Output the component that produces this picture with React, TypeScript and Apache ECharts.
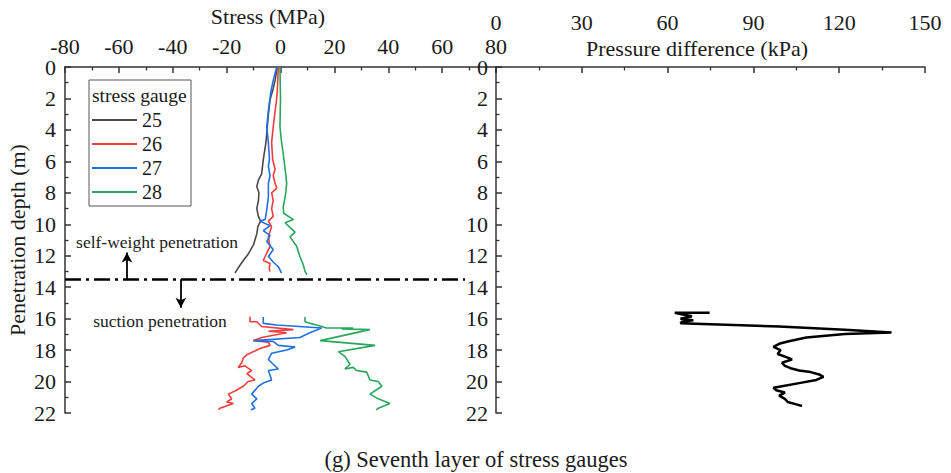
import React, { useEffect, useRef } from "react";
import * as echarts from "echarts";

const FONT = "'Liberation Serif', 'Times New Roman', serif";

const gaugeNames = ["25", "26", "27", "28"];
const gaugeColors = ["#4a4a4a", "#f03c3c", "#1f6fe0", "#2aa65c"];

// [stress (MPa), depth (m)]
const g25Upper = [
  [-1.2, 0], [-2.0, 0.85], [-2.9, 1.5], [-3.9, 2.1], [-4.5, 3.0], [-4.9, 3.8], [-5.4, 4.8],
  [-6.4, 5.9], [-7.0, 6.8], [-8.2, 7.2], [-8.8, 7.6], [-8.0, 8.0], [-8.2, 8.5], [-8.8, 9.0],
  [-8.2, 9.5], [-7.4, 9.8], [-8.4, 10.15], [-8.8, 10.6], [-10.0, 11.3], [-12.0, 11.9],
  [-14.2, 12.4], [-15.8, 12.8], [-16.9, 13.1],
];
const g26Upper = [
  [-0.8, 0], [-1.2, 1.6], [-1.6, 2.3], [-2.0, 2.8], [-2.7, 3.8], [-3.3, 4.8], [-2.9, 5.9],
  [-2.0, 6.5], [-2.7, 6.9], [-2.0, 7.4], [-1.4, 7.7], [-3.3, 8.0], [-2.7, 8.5], [-3.3, 9.0],
  [-2.7, 9.5], [-4.5, 9.8], [-3.3, 10.15], [-4.5, 10.8], [-3.9, 11.4], [-5.7, 12.05],
  [-6.4, 12.3], [-3.9, 12.5], [-4.2, 12.8], [-3.9, 13.0],
];
const g27Upper = [
  [-1.4, 0], [-2.7, 0.85], [-3.6, 1.6], [-4.5, 2.8], [-5.1, 3.8], [-4.5, 4.8], [-4.1, 5.9],
  [-4.5, 6.3], [-3.9, 6.9], [-4.5, 7.4], [-4.5, 8.25], [-5.1, 9.1], [-5.7, 9.7], [-7.6, 9.8],
  [-3.9, 10.1], [-6.4, 10.4], [-3.9, 10.7], [-5.1, 11.1], [-2.7, 11.6], [-4.5, 12.05],
  [-2.7, 12.4], [-0.8, 12.7], [0.4, 13.1],
];
const g28Upper = [
  [-0.2, 0], [0, 2], [-0.2, 3.8], [0.4, 4.8], [1.0, 5.5], [1.5, 6.2], [2.0, 6.9], [2.3, 7.4],
  [2.0, 7.9], [1.7, 8.3], [1.0, 8.9], [1.2, 9.3], [4.8, 9.7], [1.7, 9.9], [3.5, 10.2],
  [5.4, 10.5], [3.5, 10.8], [6.0, 11.4], [7.2, 12.05], [8.5, 12.6], [9.1, 13.0], [9.8, 13.2],
];

const g25Lower: number[][] = [];
const g26Lower = [
  [-11.3, 15.88], [-11.3, 16.2], [-8.8, 16.2], [-7.0, 16.5], [4.8, 16.7], [-4.5, 16.8],
  [2.3, 16.9], [-7.0, 17.2], [-10.1, 17.4], [-4.5, 17.5], [-3.9, 17.7], [-7.6, 17.9],
  [-12.5, 18.3], [-13.8, 18.5], [-14.4, 18.8], [-15.7, 19.1], [-13.2, 19.0], [-10.7, 19.3],
  [-12.5, 19.5], [-9.5, 19.9], [-12.0, 20.0], [-13.8, 20.3], [-16.9, 20.6], [-19.4, 20.8],
  [-18.1, 21.1], [-20.0, 21.3], [-17.5, 21.4], [-22.5, 21.7], [-23.0, 21.8],
];
const g27Lower = [
  [-6.4, 15.9], [-6.4, 16.3], [-1.4, 16.4], [15.3, 16.6], [10.9, 16.9], [7.2, 17.2],
  [-10.1, 17.4], [-2.7, 17.45], [-0.8, 17.7], [5.4, 17.8], [2.3, 18.0], [-3.3, 18.2],
  [-4.5, 18.6], [-2.7, 18.9], [-0.8, 19.2], [-4.5, 19.3], [-3.3, 19.9], [-6.4, 20.1],
  [-8.2, 20.3], [-10.7, 20.8], [-8.8, 21.1], [-10.7, 21.4], [-9.5, 21.7], [-11.0, 21.8],
];
const g28Lower = [
  [9.1, 15.9], [9.1, 16.2], [10.9, 16.3], [13.4, 16.4], [17.1, 16.6], [27.0, 16.6],
  [22.7, 16.65], [33.2, 16.7], [14.7, 17.4], [35.1, 17.7], [21.5, 18.1], [23.9, 18.4],
  [25.8, 18.9], [23.9, 19.2], [27.0, 19.1], [28.3, 19.3], [32.0, 19.4], [33.2, 19.9],
  [36.3, 20.0], [37.6, 20.3], [33.2, 20.8], [36.3, 21.1], [40.6, 21.4], [36.3, 21.7],
  [35.5, 21.8],
];

// [pressure difference (kPa), depth (m)]
const pressureData = [
  [74.7, 15.62], [62.5, 15.62], [64.5, 15.7], [68.5, 15.85], [64.5, 16.0], [69, 16.1],
  [65, 16.2], [64.5, 16.3], [75, 16.35], [99, 16.5], [122, 16.7], [138.3, 16.88],
  [122, 16.98], [108.5, 17.2], [102, 17.45], [99, 17.6], [97, 17.8], [99.5, 18.0],
  [98.5, 18.25], [101.5, 18.45], [103.5, 18.6], [100, 18.8], [101, 19.0], [103, 19.15],
  [106, 19.3], [110, 19.4], [113, 19.55], [114.5, 19.7], [112, 19.9], [106, 20.1],
  [100, 20.3], [97, 20.4], [98, 20.55], [101, 20.7], [99, 20.9], [101, 21.1], [102, 21.3],
  [105, 21.45], [107, 21.55],
];

const boundaryDepth = 13.5;
const boundaryEndStress = 68.5;
const upArrowStress = -57;
const upArrowTop = 11.8;
const downArrowStress = -37;
const downArrowBottom = 15.3;

const upperSets = [g25Upper, g26Upper, g27Upper, g28Upper];
const lowerSets = [g25Lower, g26Lower, g27Lower, g28Lower];

export default function App() {
  const ref = useRef<HTMLDivElement>(null);

  useEffect(() => {
    if (!ref.current) return;
    const chart = echarts.init(ref.current, undefined, { renderer: "svg" });

    const axisLine = { show: true, onZero: false, lineStyle: { color: "#333", width: 1.5 } };
    const axisTick = { show: true, inside: true, length: 6, lineStyle: { color: "#333", width: 1.5 } };
    const minorTick = { show: true, splitNumber: 2, length: 3.5, lineStyle: { color: "#333", width: 1.3 } };
    const labelStyle = { fontSize: 22, fontFamily: FONT, color: "#1a1a1a" };

    const series: any[] = [];
    gaugeNames.forEach((name, i) => {
      const up: any = {
        name,
        type: "line",
        xAxisIndex: 0,
        yAxisIndex: 0,
        data: upperSets[i],
        showSymbol: false,
        symbol: "none",
        lineStyle: { color: gaugeColors[i], width: 1.6 },
        itemStyle: { color: gaugeColors[i] },
        z: 3,
      };
      if (i === 0) {
        up.markLine = {
          silent: true,
          symbol: ["none", "none"],
          label: { show: false },
          lineStyle: { color: "#000", width: 2.5, type: [16, 5, 3, 5] },
          data: [[{ coord: [-80, boundaryDepth] }, { coord: [boundaryEndStress, boundaryDepth] }]],
        };
      }
      if (i === 1) {
        up.markLine = {
          silent: true,
          symbol: ["none", "arrow"],
          symbolSize: [8, 10],
          label: { show: false },
          lineStyle: { color: "#000", width: 1.8, type: "solid" },
          data: [
            [{ coord: [upArrowStress, boundaryDepth] }, { coord: [upArrowStress, upArrowTop] }],
            [{ coord: [downArrowStress, boundaryDepth] }, { coord: [downArrowStress, downArrowBottom] }],
          ],
        };
      }
      series.push(up);
      if (lowerSets[i].length) {
        series.push({
          name,
          type: "line",
          xAxisIndex: 0,
          yAxisIndex: 0,
          data: lowerSets[i],
          showSymbol: false,
          symbol: "none",
          lineStyle: { color: gaugeColors[i], width: 1.6 },
          itemStyle: { color: gaugeColors[i] },
          z: 3,
        });
      }
    });
    series.push({
      name: "pressure",
      type: "line",
      xAxisIndex: 1,
      yAxisIndex: 1,
      data: pressureData,
      showSymbol: false,
      symbol: "none",
      lineStyle: { color: "#000", width: 2.5 },
      itemStyle: { color: "#000" },
    });

    const option: any = {
      animation: false,
      backgroundColor: "#fff",
      grid: [
        { left: 65, top: 67, width: 431, height: 346, containLabel: false },
        { left: 496, top: 67, width: 429, height: 346, containLabel: false },
      ],
      xAxis: [
        {
          type: "value",
          gridIndex: 0,
          position: "top",
          min: -80,
          max: 80,
          interval: 20,
          axisLine,
          axisTick,
          minorTick,
          splitLine: { show: false },
          minorSplitLine: { show: false },
          axisLabel: { ...labelStyle, margin: 10 },
        },
        {
          type: "value",
          gridIndex: 1,
          position: "top",
          min: 0,
          max: 150,
          interval: 30,
          axisLine,
          axisTick,
          minorTick,
          splitLine: { show: false },
          minorSplitLine: { show: false },
          axisLabel: { ...labelStyle, margin: 34 },
        },
      ],
      yAxis: [
        {
          type: "value",
          gridIndex: 0,
          position: "left",
          inverse: true,
          min: 0,
          max: 22,
          interval: 2,
          axisLine,
          axisTick,
          minorTick,
          splitLine: { show: false },
          minorSplitLine: { show: false },
          axisLabel: { ...labelStyle, margin: 9 },
          name: "Penetration depth (m)",
          nameLocation: "middle",
          nameGap: 37,
          nameTextStyle: { fontSize: 22, fontFamily: FONT, color: "#1a1a1a" },
        },
        {
          type: "value",
          gridIndex: 1,
          position: "left",
          inverse: true,
          min: 0,
          max: 22,
          interval: 2,
          axisLine,
          axisTick,
          minorTick,
          splitLine: { show: false },
          minorSplitLine: { show: false },
          axisLabel: { ...labelStyle, margin: 8 },
        },
      ],
      legend: {
        data: gaugeNames,
        left: 89,
        top: 80,
        orient: "vertical",
        icon: "rect",
        itemWidth: 45,
        itemHeight: 2,
        itemGap: 4,
        padding: [30, 29, 4, 3],
        borderColor: "#555",
        borderWidth: 1,
        selectedMode: false,
        textStyle: { fontSize: 20, fontFamily: FONT, color: "#1a1a1a" },
      },
      graphic: [
        {
          type: "text",
          x: 268,
          y: 16,
          style: { text: "Stress (MPa)", fontSize: 22, fontFamily: FONT, fill: "#1a1a1a", align: "center", verticalAlign: "middle" },
        },
        {
          type: "text",
          x: 697,
          y: 48,
          style: { text: "Pressure difference (kPa)", fontSize: 22, fontFamily: FONT, fill: "#1a1a1a", align: "center", verticalAlign: "middle" },
        },
        {
          type: "text",
          x: 92,
          y: 95,
          style: { text: "stress gauge", fontSize: 19.5, fontFamily: FONT, fill: "#1a1a1a", align: "left", verticalAlign: "middle" },
        },
        {
          type: "text",
          x: 157,
          y: 242,
          style: { text: "self-weight penetration", fontSize: 17.5, fontFamily: FONT, fill: "#1a1a1a", align: "center", verticalAlign: "middle" },
        },
        {
          type: "text",
          x: 160,
          y: 321,
          style: { text: "suction penetration", fontSize: 17.5, fontFamily: FONT, fill: "#1a1a1a", align: "center", verticalAlign: "middle" },
        },
        {
          type: "text",
          x: 476,
          y: 459,
          style: { text: "(g) Seventh layer of stress gauges", fontSize: 22.5, fontFamily: FONT, fill: "#1a1a1a", align: "center", verticalAlign: "middle" },
        },
      ],
      series,
    };

    chart.setOption(option);
    return () => chart.dispose();
  }, []);

  return (
    <div
      ref={ref}
      style={{ position: "fixed", left: 0, top: 0, width: 951, height: 473, background: "#fff" }}
    />
  );
}
